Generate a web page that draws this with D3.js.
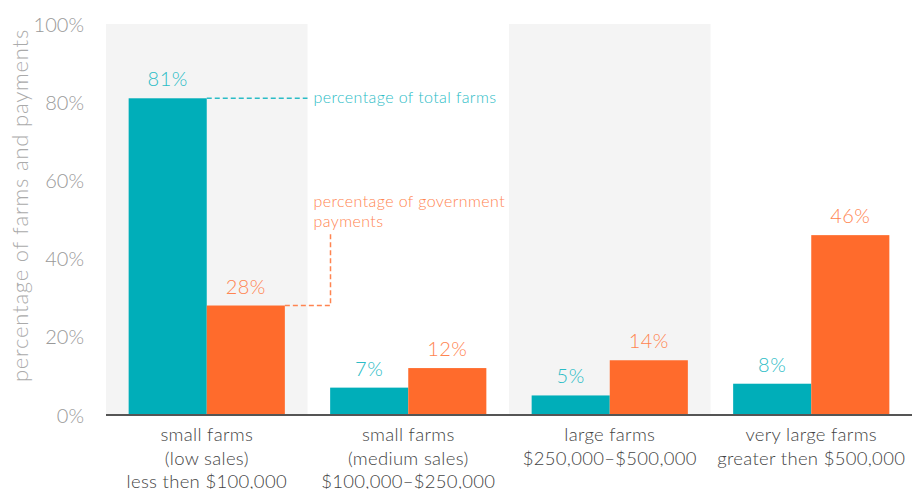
<!DOCTYPE html>
<html>
<head>
<meta charset="utf-8">
<script src="https://cdn.jsdelivr.net/npm/d3@7"></script>
<style>
  body { margin: 0; background: #fff; }
  text { font-family: Lato, "Open Sans", sans-serif; font-weight: 300; }
</style>
</head>
<body>
<div id="chart"></div>
<script>
// Data
const categories = [
    ['small farms', '(low sales)', 'less then $100,000'],
    ['small farms', '(medium sales)', '$100,000\u2013$250,000'],
    ['large farms', '$250,000\u2013$500,000'],
    ['very large farms', 'greater then $500,000']
];
const farmsShare = [81, 7, 5, 8];
const paymentsShare = [28, 12, 14, 46];
const yTicks = [0, 20, 40, 60, 80, 100];

const width = 912;
const height = 489;
const margin = { top: 24, right: 0, bottom: 74, left: 106 };

const teal = '#00aeb9';
const tealText = '#2bbcc6';
const orange = '#ff6b2c';
const orangeText = '#ff8450';

const svg = d3.select('#chart')
    .append('svg')
    .attr('width', width)
    .attr('height', height);

// Scales
const x = d3.scaleBand()
    .domain(d3.range(categories.length))
    .range([margin.left, width - margin.right])
    .padding(0);

const inner = d3.scaleBand()
    .domain(['farms', 'payments'])
    .range([0, x.bandwidth()])
    .paddingOuter(0.29)
    .paddingInner(0);

const y = d3.scaleLinear()
    .domain([0, 100])
    .range([height - margin.bottom, margin.top]);

// Alternating background bands
svg.selectAll('rect.band')
    .data(d3.range(categories.length).filter(i => i % 2 === 0))
    .enter()
    .append('rect')
    .attr('class', 'band')
    .attr('x', i => x(i))
    .attr('y', y(100))
    .attr('width', x.bandwidth())
    .attr('height', y(0) - y(100))
    .attr('fill', '#f4f4f4');

// Y axis tick labels
svg.append('g')
    .attr('transform', `translate(${margin.left - 22},0)`)
    .call(d3.axisLeft(y).tickValues(yTicks).tickFormat(d => d + '%').tickSize(0))
    .call(g => g.select('.domain').remove())
    .selectAll('text')
    .attr('fill', '#999')
    .attr('font-size', 20)
    .attr('dy', '0.35em')
    .attr('x', 0);

// Y axis title
svg.append('text')
    .attr('transform', `translate(28,${(y(0) + y(100)) / 2 - 14}) rotate(-90)`)
    .attr('text-anchor', 'middle')
    .attr('fill', '#aaa')
    .attr('font-size', 22)
    .attr('letter-spacing', 0.8)
    .text('percentage of farms and payments');

// Bars
const groups = svg.selectAll('g.cat')
    .data(categories.map((c, i) => ({ i, farms: farmsShare[i], payments: paymentsShare[i] })))
    .enter()
    .append('g')
    .attr('class', 'cat')
    .attr('transform', d => `translate(${x(d.i)},0)`);

const series = [
    { key: 'farms', fill: teal, text: tealText },
    { key: 'payments', fill: orange, text: orangeText }
];

series.forEach(s => {
    groups.append('rect')
        .attr('x', inner(s.key))
        .attr('y', d => y(d[s.key]))
        .attr('width', inner.bandwidth())
        .attr('height', d => y(0) - y(d[s.key]))
        .attr('fill', s.fill);

    groups.append('text')
        .attr('x', inner(s.key) + inner.bandwidth() / 2)
        .attr('y', d => y(d[s.key]) - 12)
        .attr('text-anchor', 'middle')
        .attr('fill', s.text)
        .attr('font-size', 20)
        .attr('letter-spacing', 0.5)
        .text(d => d[s.key] + '%');
});

// Baseline
svg.append('line')
    .attr('x1', margin.left)
    .attr('x2', width)
    .attr('y1', y(0))
    .attr('y2', y(0))
    .attr('stroke', '#555')
    .attr('stroke-width', 2);

// Category labels
groups.append('text')
    .attr('x', x.bandwidth() / 2)
    .attr('y', y(0) + 26)
    .attr('text-anchor', 'middle')
    .attr('fill', '#444')
    .attr('font-size', 18.5)
    .attr('letter-spacing', 0.3)
    .selectAll('tspan')
    .data((d, i) => categories[i])
    .enter()
    .append('tspan')
    .attr('x', x.bandwidth() / 2)
    .attr('dy', (d, i) => i === 0 ? 0 : 23.5)
    .text(d => d);

// Annotations
const teal0 = x(0) + inner('farms') + inner.bandwidth();
const orange0 = x(0) + inner('payments') + inner.bandwidth();
const noteX = x(1) + 6;

svg.append('path')
    .attr('d', `M${teal0},${y(farmsShare[0])}H${x(1)}`)
    .attr('stroke', tealText)
    .attr('stroke-width', 1.5)
    .attr('stroke-dasharray', '5,3')
    .attr('fill', 'none');

svg.append('text')
    .attr('x', noteX)
    .attr('y', y(farmsShare[0]) + 5)
    .attr('fill', tealText)
    .attr('font-size', 16)
    .attr('letter-spacing', 0.4)
    .text('percentage of total farms');

svg.append('path')
    .attr('d', `M${orange0},${y(paymentsShare[0])}H${x(1) + 23}V${y(46.8)}`)
    .attr('stroke', orangeText)
    .attr('stroke-width', 1.5)
    .attr('stroke-dasharray', '5,3')
    .attr('fill', 'none');

svg.append('text')
    .attr('x', noteX)
    .attr('y', y(53.2))
    .attr('fill', orangeText)
    .attr('font-size', 16)
    .attr('letter-spacing', 0.4)
    .selectAll('tspan')
    .data(['percentage of government', 'payments'])
    .enter()
    .append('tspan')
    .attr('x', noteX)
    .attr('dy', (d, i) => i === 0 ? 0 : 20)
    .text(d => d);
</script>
</body>
</html>
